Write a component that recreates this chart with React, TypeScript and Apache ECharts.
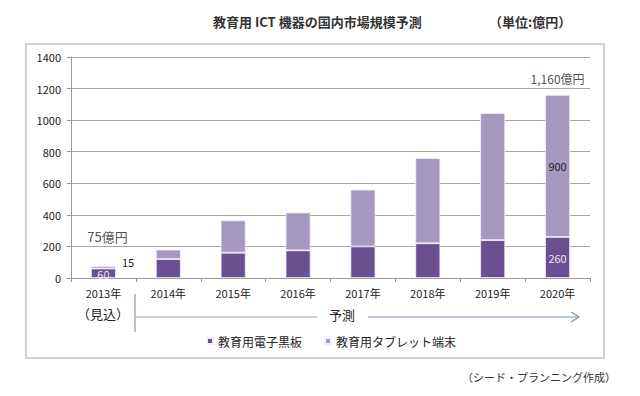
import React, { useEffect, useRef } from "react";
import * as echarts from "echarts";

const categories = ["2013年", "2014年", "2015年", "2016年", "2017年", "2018年", "2019年", "2020年"];
const blackboard = [60, 120, 160, 175, 200, 220, 240, 260];
const tablet = [15, 60, 205, 240, 360, 540, 805, 900];
const yTicks = { min: 0, max: 1400, interval: 200 };
const seriesNames = ["教育用電子黒板", "教育用タブレット端末"];

const FONT = "'Noto Sans CJK JP', 'Noto Sans', sans-serif";
const DARK = "#6a4f91";
const LIGHT = "#a699c0";

export default function App() {
  const ref = useRef<HTMLDivElement>(null);
  useEffect(() => {
    if (!ref.current) return;
    const chart = echarts.init(ref.current, null, { renderer: "svg" });
    const totals = blackboard.map((v, i) => v + tablet[i]);
    chart.setOption({
      animation: false,
      backgroundColor: "#ffffff",
      textStyle: { fontFamily: FONT },
      grid: { left: 71, right: 50, top: 57, bottom: 118 },
      legend: {
        data: seriesNames,
        left: 201,
        top: 330,
        icon: "rect",
        itemWidth: 6,
        itemHeight: 6,
        itemGap: 22,
        textStyle: { fontSize: 12, color: "#222", fontFamily: FONT },
      },
      xAxis: {
        type: "category",
        data: categories,
        axisLine: { lineStyle: { color: "#999", width: 1 } },
        axisTick: { show: true, length: 4, lineStyle: { color: "#999" } },
        axisLabel: { color: "#222", fontSize: 11, margin: 9, fontFamily: FONT },
      },
      yAxis: {
        type: "value",
        min: yTicks.min,
        max: yTicks.max,
        interval: yTicks.interval,
        axisLine: { show: true, lineStyle: { color: "#999", width: 1 } },
        axisTick: { show: true, length: 4, lineStyle: { color: "#999" } },
        axisLabel: { color: "#222", fontSize: 11, margin: 10, fontFamily: FONT, formatter: (v: number) => String(v) },
        splitLine: { lineStyle: { color: "#a8a8a8", width: 1 } },
      },
      series: [
        {
          name: seriesNames[0],
          type: "bar",
          stack: "total",
          barWidth: 25,
          itemStyle: { color: DARK, borderColor: "#f4f0fa", borderWidth: 0.8 },
          data: blackboard.map((v, i) => ({
            value: v,
            label:
              i === 0 || i === blackboard.length - 1
                ? { show: true, position: "inside", color: "#ece6f5", fontSize: 11, offset: [0, 1] }
                : { show: false },
          })),
        },
        {
          name: seriesNames[1],
          type: "bar",
          stack: "total",
          barWidth: 25,
          itemStyle: { color: LIGHT, borderColor: "#f4f0fa", borderWidth: 0.8 },
          data: tablet.map((v, i) => ({
            value: v,
            label:
              i === 0
                ? { show: true, position: "right", distance: 6, offset: [0, -5], color: "#222", fontSize: 11 }
                : i === tablet.length - 1
                ? { show: true, position: "inside", color: "#222", fontSize: 11 }
                : { show: false },
          })),
        },
        {
          name: "total",
          type: "scatter",
          symbolSize: 0,
          silent: true,
          data: totals.map((v, i) => ({
            value: v,
            label:
              i === 0
                ? { show: true, position: "top", offset: [4, -18], formatter: "75億円", color: "#222", fontSize: 13 }
                : i === totals.length - 1
                ? { show: true, position: "top", offset: [0, -5], formatter: (p: any) => p.value.toLocaleString("en-US") + "億円", color: "#222", fontSize: 12 }
                : { show: false },
          })),
        },
      ],
      graphic: [
        {
          type: "rect",
          shape: { x: 26, y: 44, width: 578, height: 314 },
          style: { fill: "none", stroke: "#c4c4c4", lineWidth: 1.5 },
          silent: true,
        },
        {
          type: "text",
          x: 213,
          y: 15,
          style: { text: "教育用 ICT 機器の国内市場規模予測", font: `bold 13px ${FONT}`, fill: "#333" },
        },
        {
          type: "text",
          x: 489,
          y: 15,
          style: { text: "（単位:億円）", font: `bold 13px ${FONT}`, fill: "#333" },
        },
        {
          type: "text",
          x: 103,
          y: 313,
          style: { text: "（見込）", font: `13px ${FONT}`, fill: "#222", align: "center", verticalAlign: "middle" },
        },
        {
          type: "line",
          shape: { x1: 135, y1: 294, x2: 135, y2: 332 },
          style: { stroke: "#8a9aae", lineWidth: 1.2 },
        },
        {
          type: "line",
          shape: { x1: 135, y1: 317, x2: 317, y2: 317 },
          style: { stroke: "#95a4b8", lineWidth: 1.2 },
        },
        {
          type: "text",
          x: 342,
          y: 314,
          style: { text: "予測", font: `13px ${FONT}`, fill: "#222", align: "center", verticalAlign: "middle" },
        },
        {
          type: "line",
          shape: { x1: 368, y1: 317, x2: 578, y2: 317 },
          style: { stroke: "#7e93b0", lineWidth: 1.2 },
        },
        {
          type: "polyline",
          shape: { points: [[571, 312], [579, 317], [571, 322]] },
          style: { stroke: "#7e93b0", lineWidth: 1.2, fill: "none" },
        },
        {
          type: "text",
          x: 462,
          y: 371,
          style: { text: "（シード・プランニング作成）", font: `11px ${FONT}`, fill: "#333" },
        },
      ],
    });
    return () => chart.dispose();
  }, []);
  return (
    <div
      ref={ref}
      style={{ position: "absolute", left: 0, top: 0, width: 640, height: 396 }}
    />
  );
}
